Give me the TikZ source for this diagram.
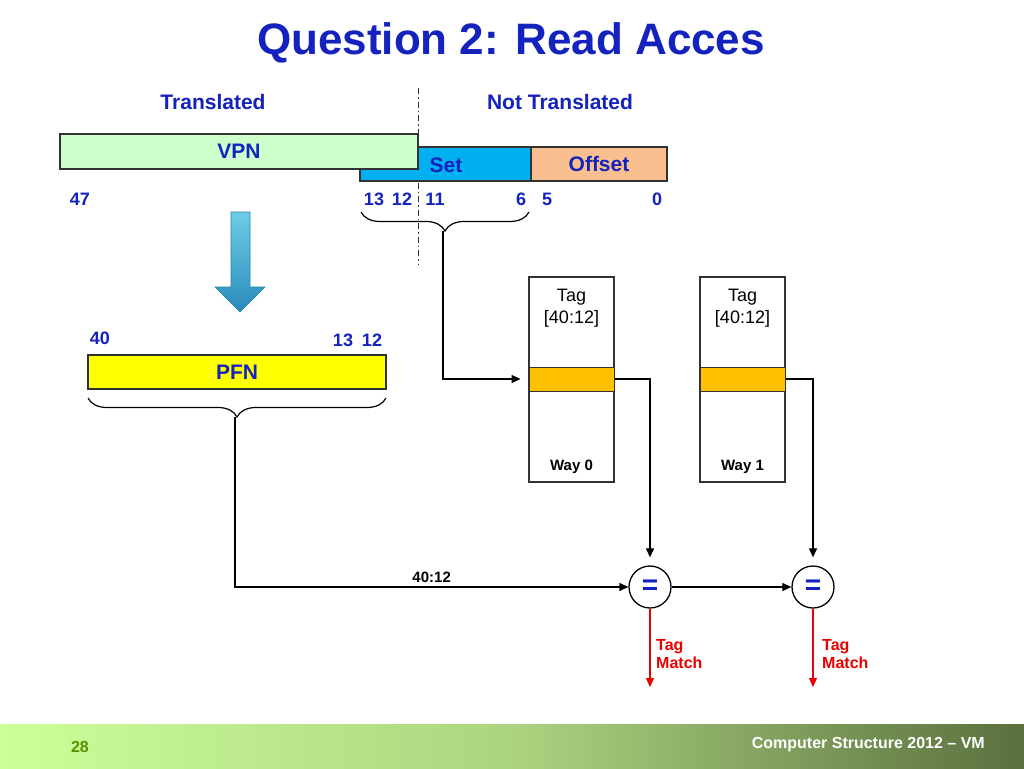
\documentclass[tikz,border=0pt]{standalone}
\usepackage{fontspec}
\setmainfont{Liberation Sans}
\usetikzlibrary{arrows.meta,decorations.pathreplacing}
\definecolor{ttl}{RGB}{20,34,190}
\definecolor{vpnfill}{RGB}{204,255,204}
\definecolor{setfill}{RGB}{0,176,240}
\definecolor{offfill}{RGB}{250,191,143}
\definecolor{pfnfill}{RGB}{255,255,0}
\definecolor{rowfill}{RGB}{255,192,0}
\definecolor{edge}{RGB}{50,50,50}
\definecolor{redtxt}{RGB}{235,0,0}
\definecolor{pagenum}{RGB}{85,150,0}
\newcommand{\fsz}[1]{\fontsize{#1}{#1}\selectfont}
\tikzset{
  field/.style={draw=edge, line width=1.3pt, inner sep=0pt, font=\fsz{21}\bfseries, text=ttl},
  bitlbl/.style={font=\fsz{18}\bfseries, text=ttl, inner sep=0pt},
  hdr/.style={font=\fsz{21}\bfseries, text=ttl, inner sep=0pt},
  waybox/.style={draw=edge, line width=1.2pt, minimum width=85pt, minimum height=205pt, inner sep=0pt},
  wayrow/.style={draw=edge, line width=1pt, fill=rowfill, minimum width=85pt, minimum height=24pt, inner sep=0pt},
  waytxt/.style={font=\fsz{18}, align=center, inner sep=0pt},
  wayname/.style={font=\fsz{15}\bfseries, inner sep=0pt},
  cmp/.style={circle, draw=black, line width=1.3pt, minimum size=42pt, inner sep=0pt, font=\fsz{28}\bfseries, text=ttl},
  conn/.style={line width=1.2pt, -{Triangle[length=9pt,width=8pt]}},
  redconn/.style={line width=1.2pt, draw=redtxt, -{Triangle[length=9pt,width=8pt]}},
  brc/.style={line width=1.2pt, decorate, decoration={brace, mirror, amplitude=19pt}},
  match/.style={font=\fsz{16}\bfseries, text=redtxt, align=left, inner sep=0pt, anchor=north west}
}
\begin{document}
\begin{tikzpicture}[x=1pt,y=-1pt]
\useasboundingbox (0,0) rectangle (1024,768);
\fill[white] (0,0) rectangle (1024,768);
% footer
\shade[left color={rgb,255:red,204;green,255;blue,153}, right color={rgb,255:red,90;green,112;blue,62}, middle color={rgb,255:red,172;green,212;blue,128}, shading angle=90] (0,724) rectangle (1024,768);
\node[font=\fsz{16}\bfseries, text=pagenum, inner sep=0pt] (pnum) at (80,747) {28};
\node[font=\fsz{16}\bfseries, text=white, inner sep=0pt, anchor=east] (foot) at (985,745) {Computer Structure 2012 – VM};
% title
\node[font=\fsz{44}\bfseries, text=ttl, inner sep=0pt] (title) at (511,43) {Question 2: Read Acces};
\node[hdr] (trans) at (213,102) {Translated};
\node[hdr] (ntrans) at (560,102) {Not Translated};
% divider
\coordinate (dtop) at (418,88);
\coordinate (dbot) at (418,265);
\draw[line width=1pt, dash pattern=on 6pt off 3pt on 1.5pt off 3pt, draw=edge] (dtop) -- (dbot);
% address fields
\node[field, fill=setfill, minimum width=171pt, minimum height=34pt] (set) at (445.5,164) {};
\node[field, fill=offfill, minimum width=136pt, minimum height=34pt] (off) at (599,164) {Offset};
\node[field, fill=vpnfill, minimum width=358pt, minimum height=35pt] (vpn) at (239,151.5) {VPN};
\node[hdr] (settxt) at (446,165) {Set};
% bit labels
\node[bitlbl] (b47) at (80,199) {47};
\node[bitlbl] (b13) at (374,199) {13};
\node[bitlbl] (b12) at (402,199) {12};
\node[bitlbl] (b11) at (435,199) {11};
\node[bitlbl] (b6) at (521,199) {6};
\node[bitlbl] (b5) at (547,199) {5};
\node[bitlbl] (b0) at (657,199) {0};
% set brace
\coordinate (sb1) at (361,212);
\coordinate (sb2) at (529,212);
\draw[brc] (sb1) -- (sb2);
\coordinate (stip) at (443,231);
% translation arrow
\shade[top color={rgb,255:red,110;green,205;blue,230}, bottom color={rgb,255:red,40;green,140;blue,185}, draw={rgb,255:red,40;green,130;blue,170}, line width=0.6pt]
  (231,212) -- (250,212) -- (250,287) -- (265,287) -- (240,312) -- (215,287) -- (231,287) -- cycle;
% PFN
\node[bitlbl] (p40) at (100,338) {40};
\node[bitlbl] (p13) at (343,340) {13};
\node[bitlbl] (p12) at (372,340) {12};
\node[field, fill=pfnfill, minimum width=298pt, minimum height=34pt] (pfn) at (237,372) {PFN};
\coordinate (pb1) at (88,398);
\coordinate (pb2) at (386,398);
\draw[brc] (pb1) -- (pb2);
\coordinate (ptip) at (235,417);
% ways
\node[waybox] (way0) at (571.5,379.5) {};
\node[waybox] (way1) at (742.5,379.5) {};
\node[wayrow] (row0) at (571.5,379) {};
\node[wayrow] (row1) at (742.5,379) {};
\node[waytxt] (tag0) at (571.5,308) {Tag\\[4pt][40:12]};
\node[waytxt] (tag1) at (742.5,308) {Tag\\[4pt][40:12]};
\node[wayname] (wn0) at (571.5,467) {Way 0};
\node[wayname] (wn1) at (742.5,467) {Way 1};
% comparators
\node[cmp] (eq1) at (650,587) {=};
\node[cmp] (eq2) at (813,587) {=};
% connectors
\draw[conn, shorten >=8pt] (stip) |- (row0.west);
\draw[conn, shorten >=8pt] (row0.east) -| (eq1.north);
\draw[conn, shorten >=8pt] (row1.east) -| (eq2.north);
\draw[conn] (ptip) |- node[pos=0.75, above=4pt, font=\fsz{15}\bfseries, inner sep=0pt] (lbl) {40:12} (eq1.west);
\draw[conn] (eq1.east) -- (eq2.west);
\coordinate (m1) at (650,687);
\coordinate (m2) at (813,687);
\draw[redconn] (eq1.south) -- (m1);
\draw[redconn] (eq2.south) -- (m2);
\node[match] (tm1) at (656,639) {Tag\\[2pt]Match};
\node[match] (tm2) at (822,639) {Tag\\[2pt]Match};
\end{tikzpicture}
\end{document}
